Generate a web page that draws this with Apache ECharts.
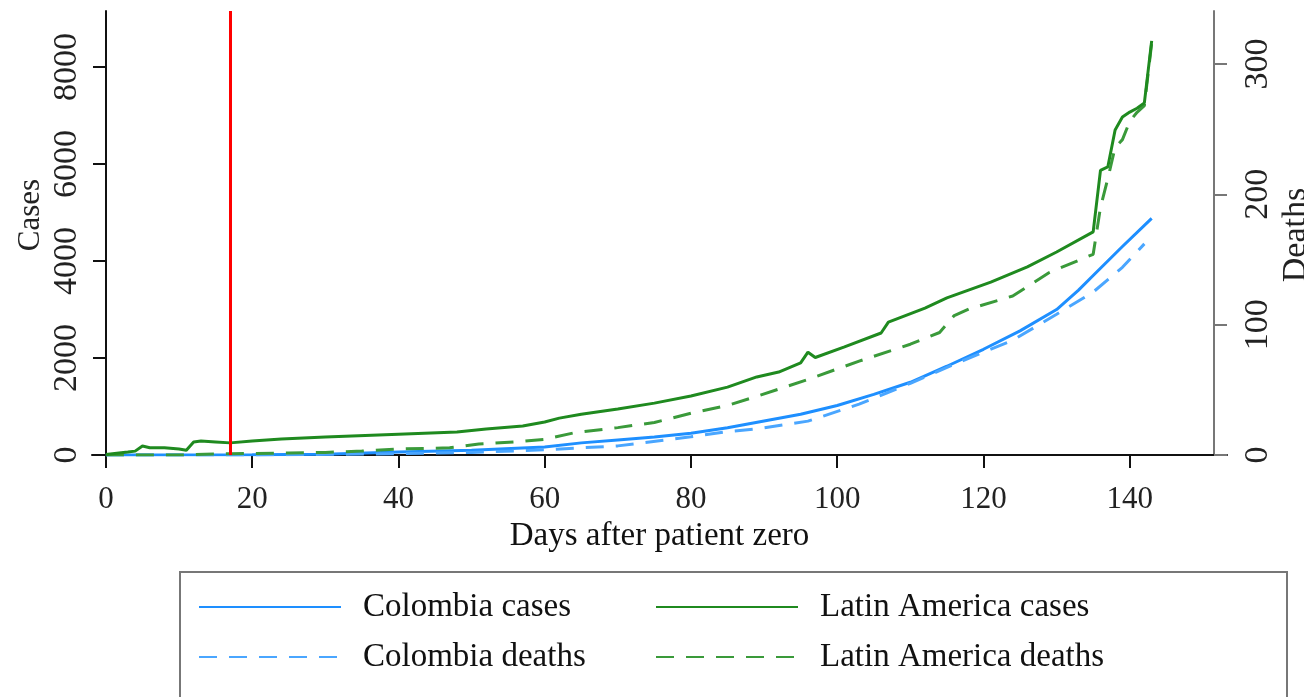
<!DOCTYPE html>
<html>
<head>
<meta charset="utf-8">
<script src="https://cdn.jsdelivr.net/npm/echarts@6/dist/echarts.min.js"></script>
<style>
  html, body { margin: 0; padding: 0; background: #fff; }
  #eChart { width: 1304px; height: 697px; }
</style>
</head>
<body>
<div id="eChart"></div>
<script>
// values
var latamCasesDays = [0, 3, 4, 5, 6, 8, 10, 11, 12, 13, 15, 17, 20, 24, 30, 40, 48, 52, 57, 60, 62, 65, 70, 75, 80, 85, 89, 92, 95, 96, 97, 101, 106, 107, 112, 115, 121, 126, 130, 135, 136, 137, 138, 139, 140, 141, 142, 143];
var latamCasesVals = [10, 60, 80, 185, 150, 150, 125, 100, 270, 290, 270, 250, 290, 330, 370, 430, 475, 535, 600, 680, 760, 840, 950, 1070, 1215, 1400, 1610, 1710, 1900, 2120, 2010, 2230, 2515, 2740, 3030, 3240, 3565, 3880, 4185, 4600, 5870, 5940, 6700, 6970, 7070, 7150, 7260, 8540];

var latamDeathsDays = [0, 10, 17, 25, 30, 35, 40, 47, 51, 56, 60, 64, 70, 75, 80, 85, 89, 96, 103, 110, 114, 116, 118, 124, 129, 135, 136, 137, 138, 139, 140, 141, 142, 143];
var latamDeathsVals = [0, 0, 1, 1.5, 2, 3, 4.6, 5.5, 8.4, 10, 12, 17, 21, 25, 32, 38, 45, 58, 72, 85, 94, 107, 112, 122, 140, 154, 190, 212, 236, 242, 256, 263, 268, 316];

var colCasesDays = [0, 20, 30, 40, 50, 60, 65, 70, 75, 80, 85, 90, 95, 100, 105, 110, 115, 120, 125, 130, 133, 135, 139, 143];
var colCasesVals = [0, 5, 15, 60, 100, 165, 250, 310, 370, 450, 560, 700, 840, 1020, 1250, 1500, 1830, 2180, 2560, 3000, 3400, 3700, 4300, 4880];

var colDeathsDays = [0, 20, 30, 40, 50, 60, 70, 80, 85, 89, 96, 103, 110, 117, 124, 130, 135, 139, 142];
var colDeathsVals = [0, 0, 0.5, 1, 2, 4, 7, 14, 18, 20, 26, 39, 55, 72, 88, 108, 125, 144, 162];

var xTicks = [0, 20, 40, 60, 80, 100, 120, 140];
var casesTicks = [0, 2000, 4000, 6000, 8000];
var deathsTicks = [0, 100, 200, 300];
var patientZeroLine = 17;

function pairs(days, vals) {
  return days.map(function (d, i) { return [d, vals[i]]; });
}

var font = 'Liberation Serif';
var dash = [18, 12];
var plain = function (v) { return String(v); };

var legendBase = {
  orient: 'vertical',
  top: 582,
  itemWidth: 142,
  itemHeight: 14,
  itemGap: 10,
  itemStyle: { opacity: 0 },
  textStyle: { fontFamily: font, fontSize: 33, color: '#111', lineHeight: 40, padding: [0, 0, 0, 17] }
};

var chart = echarts.init(document.getElementById('eChart'));
var option = {
  animation: false,
  grid: { left: 92, right: 77, top: 11, bottom: 242 },
  xAxis: {
    type: 'value',
    min: -1.9,
    max: 153.3,
    axisLine: { onZero: false, lineStyle: { color: '#111', width: 2 } },
    axisTick: { length: 13, customValues: xTicks, lineStyle: { color: '#111', width: 2 } },
    axisLabel: { customValues: xTicks, formatter: plain, margin: 29, fontFamily: font, fontSize: 31, color: '#222' },
    splitLine: { show: false },
    name: 'Days after patient zero',
    nameLocation: 'middle',
    nameGap: 62,
    nameTextStyle: { fontFamily: font, fontSize: 33, color: '#111' }
  },
  yAxis: [
    {
      type: 'value',
      min: 0,
      max: 9155,
      position: 'left',
      offset: -14,
      axisLine: { show: true, onZero: false, lineStyle: { color: '#111', width: 2 } },
      axisTick: { show: true, length: 13, customValues: casesTicks, lineStyle: { color: '#111', width: 2 } },
      axisLabel: { customValues: casesTicks, formatter: plain, rotate: 90, margin: 22, fontFamily: font, fontSize: 34, color: '#222' },
      splitLine: { show: false }
    },
    {
      type: 'value',
      min: 0,
      max: 340.7,
      position: 'right',
      offset: -13,
      axisLine: { show: true, onZero: false, lineStyle: { color: '#777', width: 2 } },
      axisTick: { show: true, length: 13, customValues: deathsTicks, lineStyle: { color: '#777', width: 2 } },
      axisLabel: { customValues: deathsTicks, formatter: plain, rotate: 90, margin: 27, fontFamily: font, fontSize: 34, color: '#222' },
      splitLine: { show: false }
    }
  ],
  legend: [
    Object.assign({}, legendBase, { left: 193, data: ['Colombia cases', 'Colombia deaths'] }),
    Object.assign({}, legendBase, { left: 650, data: ['Latin America cases', 'Latin America deaths'] })
  ],
  graphic: [
    {
      type: 'rect',
      shape: { x: 180, y: 572, width: 1107, height: 135 },
      style: { fill: 'none', stroke: '#777', lineWidth: 2 },
      silent: true
    },
    {
      type: 'text',
      x: 31, y: 215, rotation: Math.PI / 2,
      style: { text: 'Cases', fontFamily: font, fontSize: 31, fill: '#222', align: 'center', verticalAlign: 'middle' }
    },
    {
      type: 'text',
      x: 1296, y: 235, rotation: Math.PI / 2,
      style: { text: 'Deaths', fontFamily: font, fontSize: 34, fill: '#222', align: 'center', verticalAlign: 'middle' }
    }
  ],
  series: [
    {
      name: 'Colombia cases',
      type: 'line',
      yAxisIndex: 0,
      symbol: 'none',
      color: '#1e8fff',
      lineStyle: { width: 3, color: '#1e8fff' },
      data: pairs(colCasesDays, colCasesVals)
    },
    {
      name: 'Colombia deaths',
      type: 'line',
      yAxisIndex: 1,
      symbol: 'none',
      color: '#4aa6ff',
      lineStyle: { width: 3, color: '#4aa6ff', type: dash },
      data: pairs(colDeathsDays, colDeathsVals)
    },
    {
      name: 'Latin America deaths',
      type: 'line',
      yAxisIndex: 1,
      symbol: 'none',
      color: '#3a9a3a',
      lineStyle: { width: 3, color: '#3a9a3a', type: dash },
      data: pairs(latamDeathsDays, latamDeathsVals)
    },
    {
      name: 'Latin America cases',
      type: 'line',
      yAxisIndex: 0,
      symbol: 'none',
      color: '#1f8a1f',
      lineStyle: { width: 3, color: '#1f8a1f' },
      data: pairs(latamCasesDays, latamCasesVals),
      markLine: {
        silent: true,
        symbol: 'none',
        label: { show: false },
        lineStyle: { color: '#ff0000', width: 3, type: 'solid' },
        data: [{ xAxis: patientZeroLine }]
      }
    }
  ]
};
chart.setOption(option);
</script>
</body>
</html>
